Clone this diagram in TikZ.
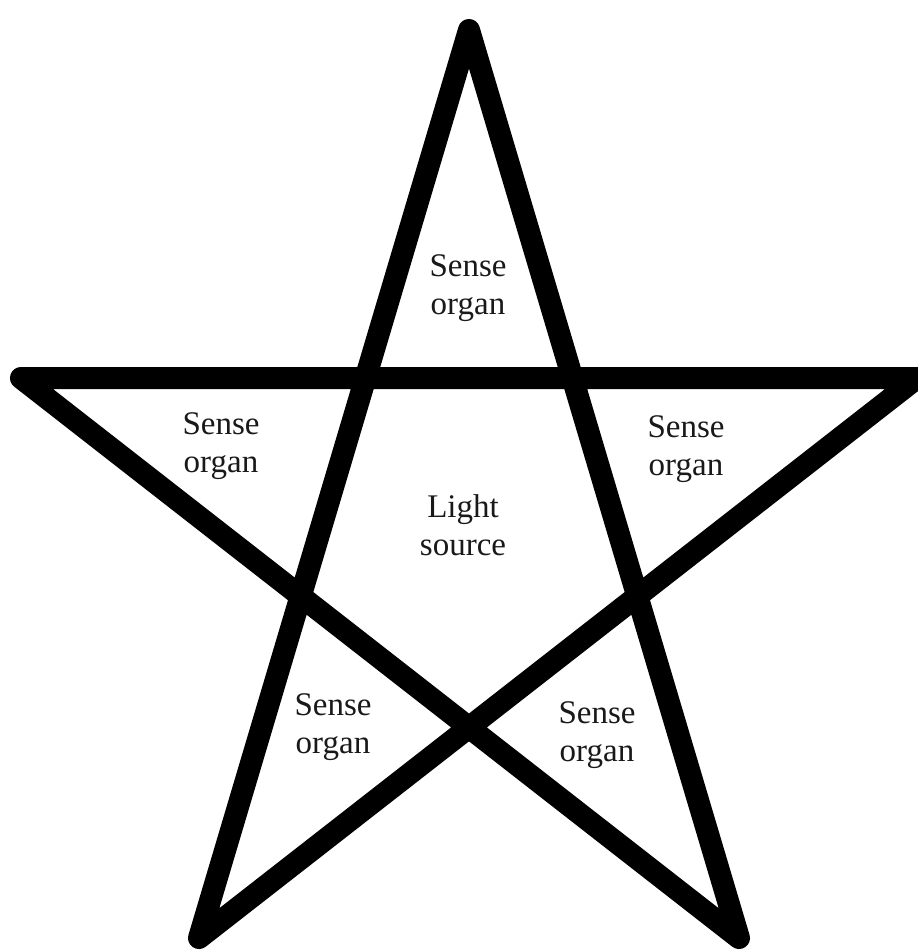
\documentclass[tikz,border=0pt]{standalone}
\usepackage{fontspec}
\setmainfont{Liberation Serif}
\usetikzlibrary{positioning}
\begin{document}
\begin{tikzpicture}[
        x=1pt, y=-1pt,
        starline/.style={draw=black, line width=22pt, line join=round, line cap=round},
        organ/.style={font=\fontsize{33}{38}\selectfont, text=black!90, align=center, inner sep=0pt}
      ]
        \useasboundingbox (0,0) rectangle (918,951);
        \clip (0,0) rectangle (918,951);
        % points of the star
        \coordinate (top) at (469,30);
        \coordinate (left) at (21,378);
        \coordinate (right) at (917,378);
        \coordinate (botleft) at (199,938);
        \coordinate (botright) at (739,938);
        \draw[starline] (top) -- (botleft) -- (right) -- (left) -- (botright) -- cycle;
        % labels
        \node[organ] (organtop) at (468,288) {Sense\\organ};
        \node[organ] (organleft) at (221,446) {Sense\\organ};
        \node[organ] (organright) at (686,449) {Sense\\organ};
        \node[organ] (light) at (463,525) {Light\\source};
        \node[organ] (organbl) at (333,727) {Sense\\organ};
        \node[organ] (organbr) at (597,735) {Sense\\organ};
      \end{tikzpicture}
\end{document}
